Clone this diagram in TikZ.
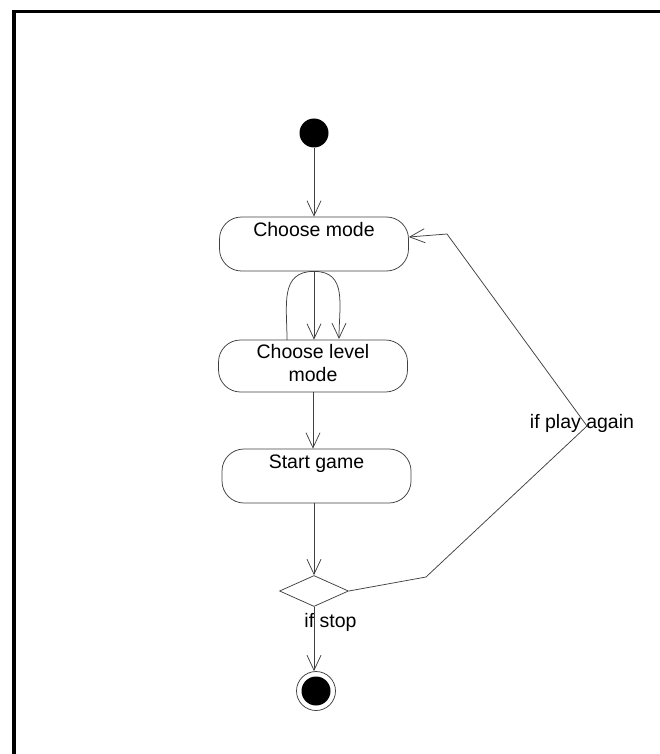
\documentclass[tikz,border=0pt]{standalone}
\usepackage{fontspec}
\setmainfont{Liberation Sans}
\usetikzlibrary{arrows.meta,shapes.geometric}

\begin{document}
\begin{tikzpicture}[x=1pt,y=-1pt,
  every node/.style={font=\fontsize{19.5}{23}\selectfont},
  line/.style={draw=black!75,line width=0.75pt},
  flow/.style={line,-{Straight Barb[length=15pt,width=14pt,line width=0.75pt]}},
  act/.style={line,rounded corners=22pt,minimum width=189pt,inner xsep=0pt,
    inner ysep=0pt,align=center},
  act1/.style={act,text height=19pt,text depth=35pt},
  act2/.style={act,text height=41pt,text depth=11pt},
  guard/.style={inner sep=0pt,anchor=base},
]
  % page and frame
  \useasboundingbox (0,0) rectangle (660,754);
  \clip (0,0) rectangle (660,754);
  \draw[line width=3.5pt] (14,760) -- (14,11.5) -- (670,11.5);

  % nodes
  \node[circle,fill=black,minimum size=29pt,inner sep=0pt] (init) at (314,133) {};
  \node[act1] (mode) at (314,244) {Choose mode};
  \node[act2] (lvl) at (313,366) {Choose level\\mode};
  \node[act1] (start) at (316.5,476) {Start game};
  \node[line,diamond,minimum width=69pt,minimum height=31pt,inner sep=0pt] (dec) at (314,591) {};
  \node[line,circle,minimum size=39pt,inner sep=0pt] (final) at (316,691) {};
  \fill (final.center) circle (14.5pt);

  % guards
  \node[guard] (stop) at (330.5,627) {if stop};
  \node[guard] (again) at (582,428) {if play again};

  % helper points
  \coordinate (lvlL) at (287,340);
  \coordinate (lvlR) at (339,339);
  \coordinate (b1) at (426,577);
  \coordinate (b2) at (587,426);
  \coordinate (b3) at (447,234);
  \coordinate (modeE) at ([yshift=7pt]mode.east);

  % connectors
  \draw[flow] (init) -- (init |- mode.north);
  \draw[flow] (mode.south) -- (mode.south |- lvl.north);
  \draw[line] (lvlL) to[out=90,in=180,looseness=1.2] (mode.south);
  \draw[flow] (mode.south) to[out=0,in=90,looseness=1.2] (lvlR);
  \draw[flow] (lvl.south) -- (lvl.south |- start.north);
  \draw[flow] (start.south -| dec.north) -- (dec.north);
  \draw[flow] (dec.south) -- (dec.south |- final.north);
  \draw[flow] (dec.east) -- (b1) -- (b2) -- (b3) -- (modeE);
\end{tikzpicture}
\end{document}
